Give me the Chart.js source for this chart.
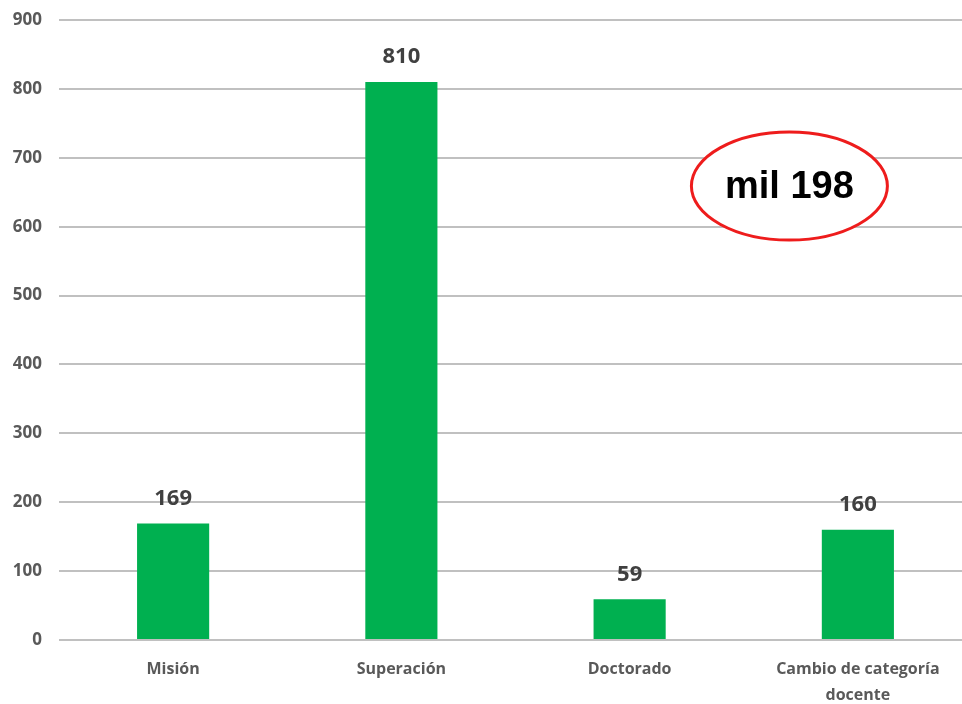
<!DOCTYPE html>
<html>
<head>
<meta charset="utf-8">
<script src="https://cdn.jsdelivr.net/npm/chart.js@4.4.0/dist/chart.umd.min.js"></script>
<style>
  html, body { margin: 0; padding: 0; background: #fff; overflow: hidden; }
  #grafico { display: block; }
</style>
</head>
<body>
<canvas id="grafico" width="972" height="704"></canvas>
<script>
// dados
const categorias = ['Misión', 'Superación', 'Doctorado', ['Cambio de categoría', 'docente']];
const valores = [169, 810, 59, 160];
const ticksY = [0, 100, 200, 300, 400, 500, 600, 700, 800, 900];

// nota em destaque (posição em coordenadas dos dados)
const notaTexto = 'mil 198';
const notaX = 2.7;
const notaY = 659;

const fonteEixo = "'Open Sans', 'DejaVu Sans', sans-serif";

// rótulos em cima das barras
const rotulosPlugin = {
  id: 'rotulos',
  afterDatasetsDraw(chart) {
    const ctx = chart.ctx;
    const meta = chart.getDatasetMeta(0);
    ctx.save();
    ctx.fillStyle = '#404040';
    ctx.font = `bold 22px ${fonteEixo}`;
    ctx.textAlign = 'center';
    ctx.textBaseline = 'middle';
    meta.data.forEach((bar, i) => {
      ctx.fillText(String(valores[i]), bar.x, bar.y - 25);
    });
    ctx.restore();
  }
};

// elipse vermelha com o total
const notaPlugin = {
  id: 'nota',
  afterDraw(chart) {
    const ctx = chart.ctx;
    const x = chart.scales.x.getPixelForValue(notaX);
    const y = chart.scales.y.getPixelForValue(notaY);
    ctx.save();
    ctx.fillStyle = '#ffffff';
    ctx.strokeStyle = '#ee1c1c';
    ctx.lineWidth = 3;
    ctx.beginPath();
    ctx.ellipse(x, y, 98, 54, 0, 0, Math.PI * 2);
    ctx.fill();
    ctx.stroke();
    ctx.fillStyle = '#000000';
    ctx.font = "bold 38px 'Liberation Sans', Arial, sans-serif";
    ctx.textAlign = 'center';
    ctx.textBaseline = 'middle';
    ctx.fillText(notaTexto, x, y + 1);
    ctx.restore();
  }
};

const ctx = document.getElementById('grafico').getContext('2d');
new Chart(ctx, {
  type: 'bar',
  data: {
    labels: categorias,
    datasets: [{
      data: valores,
      backgroundColor: '#00b050',
      borderWidth: 0,
      categoryPercentage: 1,
      barPercentage: 0.316
    }]
  },
  options: {
    responsive: false,
    animation: false,
    layout: { padding: { left: 10, top: 20, right: 0, bottom: 0 } },
    plugins: {
      legend: { display: false },
      tooltip: { enabled: false }
    },
    scales: {
      x: {
        afterFit(axis) { axis.height = 64; },
        grid: { display: false, drawTicks: false },
        border: { display: false },
        ticks: {
          color: '#595959',
          font: { family: fonteEixo, size: 16, weight: 'bold', lineHeight: 1.6 },
          padding: 17,
          maxRotation: 0
        }
      },
      y: {
        min: 0,
        max: 900,
        afterBuildTicks(axis) {
          axis.ticks = ticksY.map(v => ({ value: v }));
        },
        afterFit(axis) {
          axis.width = 49;
          axis.paddingTop = 0;
          axis.paddingBottom = 0;
        },
        grid: { color: '#c0c0c0', lineWidth: 2, drawTicks: false },
        border: { display: false },
        ticks: {
          color: '#595959',
          font: { family: fonteEixo, size: 17, weight: 'bold' },
          padding: 17
        }
      }
    }
  },
  plugins: [rotulosPlugin, notaPlugin]
});
</script>
</body>
</html>
